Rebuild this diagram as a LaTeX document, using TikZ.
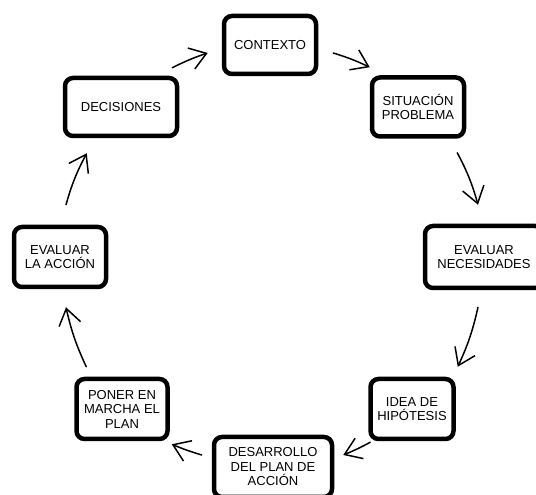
\documentclass[tikz,border=0pt]{standalone}
\usepackage{fontspec}
\setmainfont{Liberation Sans}
\usetikzlibrary{arrows.meta}
\definecolor{cycink}{HTML}{000000}
\tikzset{
  stage/.style={rectangle, rounded corners=8pt, minimum width=92pt, minimum height=58pt,
    draw=cycink, line width=4.5pt, font=\fontsize{13}{14.5}\selectfont, align=center, fill=white},
  arr/.style={-{Straight Barb[length=16pt, width=22pt]}, line width=1.5pt, line cap=round, cycink},
}

\begin{document}
\begin{tikzpicture}[x=1pt, y=1pt]
    \useasboundingbox (0,0) rectangle (536,495);
    \clip (0,0) rectangle (536,495);
    \node[stage] (con) at (270,450) {CONTEXTO};
    \node[stage, minimum height=59pt] (sit) at (418,388) {SITUACIÓN\\PROBLEMA};
    \node[stage, minimum width=118pt, minimum height=62pt] (nec) at (484,238) {EVALUAR\\NECESIDADES};
    \node[stage, minimum width=83pt, minimum height=60pt] (ide) at (412,86) {IDEA DE\\HIPÓTESIS};
    \node[stage, minimum width=118pt, minimum height=60pt] (des) at (273,28) {DESARROLLO\\DEL PLAN DE\\ACCIÓN};
    \node[stage, minimum width=91pt, minimum height=60pt] (pon) at (122,86) {PONER EN\\MARCHA EL\\PLAN};
    \node[stage, minimum height=60pt] (acc) at (60,238) {EVALUAR\\LA ACCIÓN};
    \node[stage, minimum width=112pt] (dec) at (121,388) {DECISIONES};
    \draw[arr] ([xshift=-7pt,yshift=8pt]dec.north east) to[bend left=4] ([xshift=-14pt,yshift=-8pt]con.west);
    \draw[arr] ([xshift=15pt,yshift=-8pt]con.east) to[bend left=4] ([yshift=8pt]sit.north west);
    \draw[arr] ([xshift=-9pt,yshift=-14pt]sit.south east) to[bend left=6] ([xshift=-6pt,yshift=19pt]nec.north);
    \draw[arr] ([xshift=-6pt,yshift=-17pt]nec.south) to[bend left=6] ([xshift=2pt,yshift=10pt]ide.north east);
    \draw[arr] ([xshift=2pt,yshift=-1pt]ide.south west) to[bend left=3] ([xshift=9pt,yshift=12pt]des.east);
    \draw[arr] ([xshift=-10pt,yshift=12pt]des.west) to[bend left=3] ([xshift=2pt,yshift=-3pt]pon.south east);
    \draw[arr] ([xshift=12pt,yshift=10pt]pon.north west) to[bend left=6] ([xshift=6pt,yshift=-18pt]acc.south);
    \draw[arr] ([xshift=6pt,yshift=20pt]acc.north) to[bend left=6] ([xshift=24pt,yshift=-15pt]dec.south west);
  \end{tikzpicture}
\end{document}
